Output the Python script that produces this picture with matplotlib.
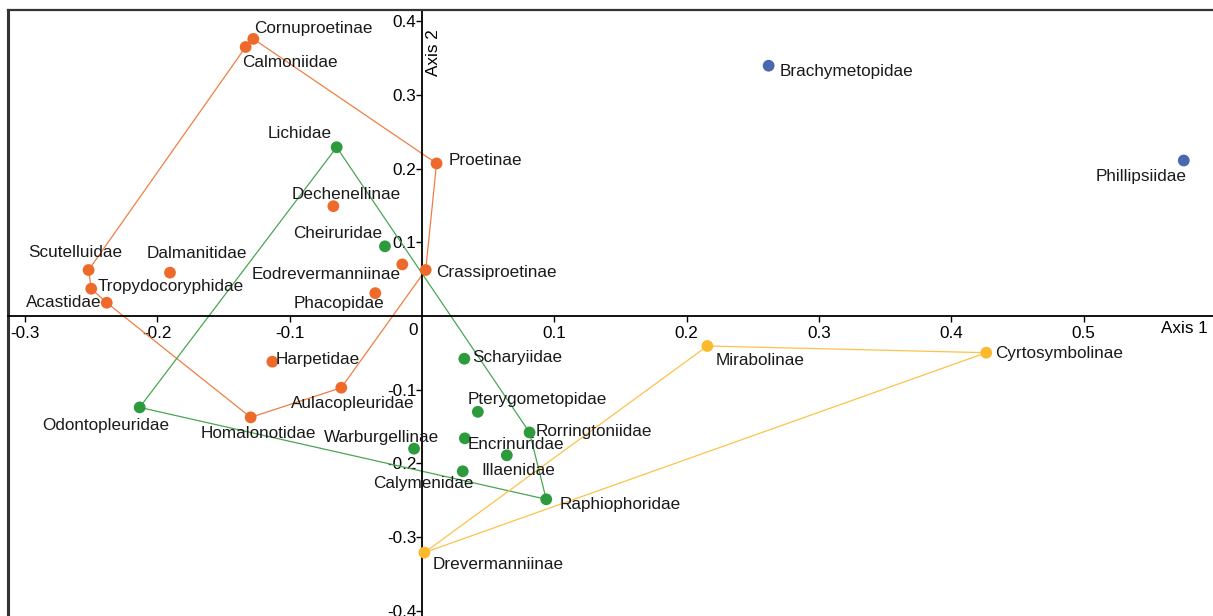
import matplotlib
matplotlib.use("Agg")
import matplotlib.pyplot as plt
from matplotlib.lines import Line2D

# ---------------- data ----------------
orange_names = ["Cornuproetinae", "Calmoniidae", "Proetinae", "Dechenellinae",
                "Eodrevermanniinae", "Crassiproetinae", "Phacopidae", "Scutelluidae",
                "Dalmanitidae", "Tropydocoryphidae", "Acastidae", "Harpetidae",
                "Aulacopleuridae", "Homalonotidae"]
orange_x = [-0.1275, -0.1333, 0.011, -0.067, -0.0149, 0.0028, -0.0353, -0.252,
            -0.1905, -0.250, -0.2383, -0.1131, -0.061, -0.1295]
orange_y = [0.376, 0.365, 0.207, 0.149, 0.070, 0.0624, 0.031, 0.0624,
            0.0588, 0.037, 0.018, -0.062, -0.0973, -0.1375]
orange_hull = ["Calmoniidae", "Cornuproetinae", "Proetinae", "Crassiproetinae",
               "Aulacopleuridae", "Homalonotidae", "Acastidae", "Tropydocoryphidae",
               "Scutelluidae", "Calmoniidae"]

green_names = ["Lichidae", "Cheiruridae", "Odontopleuridae", "Warburgellinae",
               "Scharyiidae", "Pterygometopidae", "Rorringtoniidae", "Encrinuridae",
               "Illaenidae", "Calymenidae", "Raphiophoridae"]
green_x = [-0.0645, -0.028, -0.2134, -0.006, 0.032, 0.0422, 0.0813, 0.0324,
           0.0641, 0.0308, 0.0939]
green_y = [0.229, 0.0945, -0.124, -0.180, -0.058, -0.130, -0.158, -0.166,
           -0.189, -0.2107, -0.2487]
green_hull = ["Lichidae", "Odontopleuridae", "Raphiophoridae", "Rorringtoniidae", "Lichidae"]

yellow_names = ["Mirabolinae", "Cyrtosymbolinae", "Drevermanniinae"]
yellow_x = [0.2157, 0.4265, 0.0018]
yellow_y = [-0.0407, -0.0498, -0.321]
yellow_hull = ["Drevermanniinae", "Mirabolinae", "Cyrtosymbolinae", "Drevermanniinae"]

blue_names = ["Brachymetopidae", "Phillipsiidae"]
blue_x = [0.262, 0.5758]
blue_y = [0.3396, 0.211]

x_ticks = [-0.3, -0.2, -0.1, 0.1, 0.2, 0.3, 0.4, 0.5]
y_ticks = [-0.4, -0.3, -0.2, -0.1, 0.1, 0.2, 0.3, 0.4]

# label offsets in pixels (dx to left edge of text, dy to text centre)
label_offsets = {
    "Cornuproetinae": (1, 10), "Calmoniidae": (-4, -16), "Proetinae": (12, 3),
    "Dechenellinae": (-42, 12), "Eodrevermanniinae": (-151, -10),
    "Crassiproetinae": (10, -2), "Phacopidae": (-82, -10), "Scutelluidae": (-60, 18),
    "Dalmanitidae": (-23, 19), "Tropydocoryphidae": (6, 2), "Acastidae": (-81, 0),
    "Harpetidae": (3, 2), "Aulacopleuridae": (-50, -16), "Homalonotidae": (-50, -16),
    "Lichidae": (-69, 14), "Cheiruridae": (-92, 13), "Odontopleuridae": (-97, -18),
    "Warburgellinae": (-90, 11), "Scharyiidae": (8, 1), "Pterygometopidae": (-10, 12),
    "Rorringtoniidae": (6, 1), "Encrinuridae": (3, -6), "Illaenidae": (-25, -15),
    "Calymenidae": (-90, -12), "Raphiophoridae": (13, -5), "Brachymetopidae": (11, -6),
    "Phillipsiidae": (-88, -16), "Mirabolinae": (8, -15), "Cyrtosymbolinae": (9, -1),
    "Drevermanniinae": (8, -12),
}

# ---------------- style ----------------
plt.rcParams['font.family'] = ['Liberation Sans', 'DejaVu Sans']
FS = 12.3
C_OR, C_GR, C_YE, C_BL = "#EE6A2B", "#2E9A3E", "#FDB92C", "#4A68B0"
L_OR, L_GR, L_YE = "#F07E44", "#4AA553", "#FDC24A"

W, H = 1213, 616
fig = plt.figure(figsize=(W / 100, H / 100), dpi=100)
fig.patch.set_facecolor("white")
left_px, top_px = 8, 10
ax = fig.add_axes([left_px / W, 0, 1 - left_px / W, 1 - top_px / H])

x0_px, y0_px = 422, 316
sx, sy = 1323.0, 737.0
ax.set_xlim((left_px - x0_px) / sx, (W - x0_px) / sx)
ax.set_ylim((y0_px - H) / sy, (y0_px - top_px) / sy)

def hull(names, xs, ys, order, color):
    d = {n: (a, b) for n, a, b in zip(names, xs, ys)}
    ax.plot([d[n][0] for n in order], [d[n][1] for n in order], color=color,
            lw=0.9, zorder=2)

hull(orange_names, orange_x, orange_y, orange_hull, L_OR)
hull(green_names, green_x, green_y, green_hull, L_GR)
hull(yellow_names, yellow_x, yellow_y, yellow_hull, L_YE)

for names, xs, ys, c in [(orange_names, orange_x, orange_y, C_OR),
                         (green_names, green_x, green_y, C_GR),
                         (yellow_names, yellow_x, yellow_y, C_YE),
                         (blue_names, blue_x, blue_y, C_BL)]:
    ax.scatter(xs, ys, s=72, color=c, edgecolors='none', zorder=3)
    for n, a, b in zip(names, xs, ys):
        dx, dy = label_offsets[n]
        ax.annotate(n, (a, b), xytext=(dx, dy), textcoords='offset pixels',
                    ha='left', va='center', fontsize=FS, color="#1a1a1a", zorder=4)

# axes through origin
for s in ['right']:
    ax.spines[s].set_visible(False)
ax.spines['left'].set_position(('data', 0))
ax.spines['bottom'].set_position(('data', 0))
ax.spines['left'].set_linewidth(1.3)
ax.spines['bottom'].set_linewidth(1.3)
ax.spines['top'].set_linewidth(1.6)
ax.spines['top'].set_color("#333333")
ax.add_line(Line2D([0, 0], [0, 1], transform=ax.transAxes, color="#333333",
                   lw=2.2, clip_on=False))

ax.set_xticks(x_ticks)
ax.set_xticklabels([f"{v:g}" for v in x_ticks])
ax.set_yticks(y_ticks)
ax.set_yticklabels([f"{v:g}" for v in y_ticks])
ax.tick_params(axis='x', direction='out', length=4, width=1, pad=3, labelsize=FS)
ax.tick_params(axis='y', direction='out', length=4, width=1, pad=0, labelsize=FS)
ax.annotate("0", (0, 0), xytext=(-4, -7), textcoords='offset pixels',
            ha='right', va='top', fontsize=FS)

ax.text(1208 / W * 0 + (1208 - x0_px) / sx, (y0_px - 328) / sy, "Axis 1",
        ha='right', va='center', fontsize=FS)
ax.text((433 - x0_px) / sx, (y0_px - 53) / sy, "Axis 2", rotation=90,
        ha='center', va='center', fontsize=FS)

fig.savefig("out.png", dpi=100, facecolor="white")
